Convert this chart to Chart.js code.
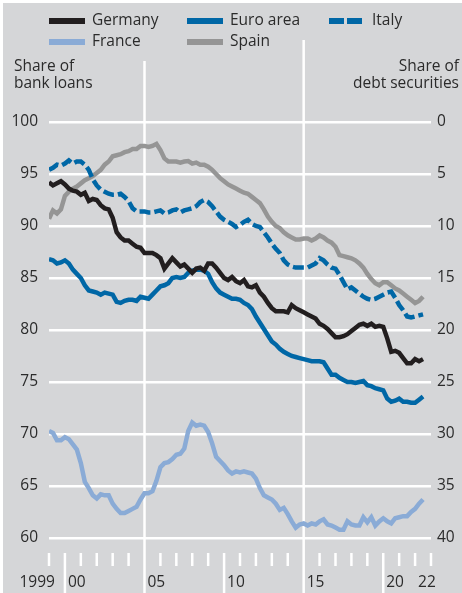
<!DOCTYPE html>
<html>
<head>
<meta charset="utf-8">
<script src="https://cdn.jsdelivr.net/npm/chart.js@4"></script>
<style>
  body { margin: 0; background: #fff; }
  #wrap { position: absolute; left: 3px; top: 3px; width: 459px; height: 590px; background: #d5d6d8; }
</style>
</head>
<body>
<div id="wrap"><canvas id="chart" width="459" height="590"></canvas></div>
<script>
// Quarterly observations, 1999 Q1 to 2022 Q3 (x position in years)
const quarters = Array.from({ length: 95 }, (_, i) => 1999 + i / 4);

const germany = [
    94.2, 93.9, 94.1, 94.3,  94.0, 93.6, 93.4, 93.3,  93.0, 93.2, 92.4, 92.6,
    92.5, 92.0, 91.7, 91.6,  90.8, 89.4, 88.9, 88.6,  88.6, 88.3, 88.0, 87.9,
    87.4, 87.4, 87.4, 87.2,  86.9, 85.9, 86.4, 86.9,  86.5, 86.1, 86.3, 85.9,
    85.5, 85.9, 86.0, 85.7,  86.4, 86.4, 86.0, 85.5,  85.0, 84.8, 85.1, 84.7,
    84.5, 84.8, 84.2, 84.1,  84.3, 83.6, 83.2, 82.6,  82.1, 81.8, 81.8, 81.8,
    81.7, 82.4, 82.1, 81.9,  81.7, 81.5, 81.3, 81.1,  80.6, 80.4, 80.1, 79.7,
    79.3, 79.3, 79.4, 79.6,  79.9, 80.2, 80.5, 80.6,  80.4, 80.6, 80.3, 80.4,
    80.3, 79.2, 77.9, 78.0,  77.8, 77.3, 76.8, 76.8,  77.2, 77.0, 77.2,
];

const euroArea = [
    86.8, 86.7, 86.4, 86.5,  86.7, 86.4, 85.8, 85.4,  85.0, 84.3, 83.8, 83.7,
    83.6, 83.4, 83.6, 83.5,  83.4, 82.7, 82.6, 82.8,  82.9, 82.9, 82.8, 83.2,
    83.1, 83.0, 83.4, 83.8,  84.2, 84.3, 84.5, 85.0,  85.1, 85.0, 85.1, 85.5,
    85.7, 85.8, 85.8, 85.7,  85.4, 84.6, 84.0, 83.6,  83.4, 83.2, 83.0, 83.0,
    82.9, 82.6, 82.4, 82.0,  81.3, 80.7, 80.1, 79.5,  78.9, 78.6, 78.2, 77.9,
    77.7, 77.5, 77.4, 77.3,  77.2, 77.1, 77.0, 77.0,  77.0, 76.9, 76.3, 75.7,
    75.7, 75.4, 75.2, 75.0,  75.0, 74.9, 75.0, 75.1,  74.7, 74.6, 74.4, 74.3,
    74.2, 73.4, 73.1, 73.2,  73.4, 73.1, 73.1, 73.0,  73.0, 73.3, 73.6,
];

const italy = [
    95.4, 95.6, 95.9, 95.8,  96.0, 96.3, 96.0, 96.2,  96.2, 95.9, 95.4, 94.5,
    93.9, 93.5, 93.3, 93.1,  93.0, 93.0, 93.1, 92.8,  92.4, 91.7, 91.4, 91.4,
    91.4, 91.3, 91.3, 91.4,  91.5, 91.2, 91.3, 91.5,  91.6, 91.3, 91.5, 91.6,
    91.7, 91.9, 92.3, 92.5,  92.3, 91.9, 91.4, 90.9,  90.6, 90.4, 90.2, 89.9,
    90.1, 90.4, 90.6, 90.2,  90.0, 89.9, 89.4, 88.9,  88.3, 87.8, 87.4, 86.7,
    86.3, 86.1, 86.0, 86.0,  86.0, 86.0, 86.2, 86.4,  86.9, 86.7, 86.3, 86.0,
    85.9, 85.3, 84.6, 83.9,  84.1, 83.8, 83.5, 83.2,  83.0, 82.9, 83.0, 83.2,
    83.4, 83.6, 83.7, 83.1,  82.4, 81.9, 81.3, 81.2,  81.3, 81.4, 81.5,
];

const france = [
    70.3, 70.1, 69.4, 69.4,  69.7, 69.5, 69.0, 68.5,  67.2, 65.4, 64.8, 64.1,
    63.8, 64.2, 64.1, 64.1,  63.3, 62.8, 62.4, 62.4,  62.6, 62.8, 63.0, 63.7,
    64.3, 64.3, 64.5, 65.5,  66.8, 67.2, 67.3, 67.6,  68.0, 68.1, 68.6, 70.3,
    71.1, 70.8, 70.9, 70.8,  70.2, 69.1, 67.8, 67.4,  67.0, 66.5, 66.2, 66.4,
    66.3, 66.4, 66.3, 66.2,  65.7, 64.8, 64.1, 63.9,  63.7, 63.3, 62.7, 62.9,
    62.3, 61.6, 61.0, 61.3,  61.4, 61.2, 61.4, 61.3,  61.6, 61.8, 61.3, 61.2,
    61.0, 60.8, 60.8, 61.6,  61.3, 61.2, 61.2, 62.0,  61.5, 62.0, 61.2, 61.6,
    61.9, 61.6, 61.4, 61.9,  62.0, 62.1, 62.1, 62.5,  62.8, 63.3, 63.7,
];

const spain = [
    90.7, 91.5, 91.2, 91.6,  92.9, 93.3, 93.6, 93.8,  94.1, 94.4, 94.6, 94.8,
    95.1, 95.4, 95.9, 96.2,  96.7, 96.8, 96.9, 97.1,  97.2, 97.4, 97.4, 97.7,
    97.7, 97.6, 97.7, 97.9,  97.3, 96.5, 96.2, 96.2,  96.2, 96.1, 96.2, 96.25,
    96.0, 96.1, 95.9, 95.9,  95.7, 95.4, 95.0, 94.6,  94.3, 94.0, 93.8, 93.6,
    93.4, 93.2, 93.1, 92.8,  92.5, 92.2, 91.6, 90.9,  90.4, 90.0, 89.8, 89.4,
    89.1, 88.9, 88.7, 88.7,  88.8, 88.8, 88.6, 88.8,  89.1, 88.9, 88.6, 88.4,
    88.0, 87.2, 87.1, 87.0,  86.9, 86.7, 86.4, 86.0,  85.4, 84.9, 84.5, 84.3,
    84.6, 84.6, 84.3, 84.0,  83.8, 83.5, 83.2, 82.9,  82.6, 82.8, 83.2,
];

const yearTicks = Array.from({ length: 25 }, (_, i) => 1999 + i);
const yearLabels = { 1999: "1999", 2000: "00", 2005: "05", 2010: "10", 2015: "15", 2020: "20", 2022: "22" };

const FONT = "'Open Sans', 'Noto Sans', sans-serif";
const FONT_SIZE = 15.5;
const TEXT = "#2b2b2b";

const legendItems = [
    { label: "Germany", color: "#221e1f", dash: [], col: 0, row: 0 },
    { label: "Euro area", color: "#0067a6", dash: [], col: 1, row: 0 },
    { label: "Italy", color: "#0067a6", dash: [15, 3], col: 2, row: 0 },
    { label: "France", color: "#8aabd6", dash: [], col: 0, row: 1 },
    { label: "Spain", color: "#959595", dash: [], col: 1, row: 1 },
];

function series(values, color, dash) {
    return {
        data: values.map((v, i) => ({ x: quarters[i], y: v })),
        borderColor: color,
        borderWidth: 4.5,
        borderDash: dash,
        borderCapStyle: "butt",
        pointRadius: 0,
        tension: 0,
        fill: false,
    };
}

// white year lines, tick marks, legend and axis titles
const decor = {
    id: "decor",
    beforeDatasetsDraw(chart) {
        const { ctx } = chart;
        const x = chart.scales.x;
        ctx.save();
        ctx.strokeStyle = "#ffffff";
        ctx.lineWidth = 2.5;
        yearTicks.forEach((yr) => {
            const px = x.getPixelForValue(yr);
            let top = 550, bottom = 563;
            if (yr === 2005) { top = 58; bottom = 590; }
            if (yr === 2015) { top = 37; bottom = 590; }
            if (yr === 2000 || yr === 2010 || yr === 2020) bottom = 590;
            ctx.beginPath();
            ctx.moveTo(px, top);
            ctx.lineTo(px, bottom);
            ctx.stroke();
        });
        ctx.restore();
    },
    afterDraw(chart) {
        const { ctx } = chart;
        const x = chart.scales.x;
        ctx.save();
        ctx.font = FONT_SIZE + "px " + FONT;
        ctx.fillStyle = TEXT;
        ctx.textBaseline = "middle";

        // year labels
        Object.keys(yearLabels).forEach((yr) => {
            const px = x.getPixelForValue(Number(yr));
            if (yr === "1999") {
                ctx.textAlign = "right";
                ctx.fillText(yearLabels[yr], x.getPixelForValue(2000) - 10, 580);
            } else {
                ctx.textAlign = "left";
                ctx.fillText(yearLabels[yr], px + 3, 580);
            }
        });

        // axis titles
        ctx.textAlign = "left";
        ctx.fillText("Share of", 11, 64);
        ctx.fillText("bank loans", 11, 81);
        ctx.textAlign = "right";
        ctx.fillText("Share of", 456, 64);
        ctx.fillText("debt securities", 456, 81);

        // legend
        const cols = [46, 184, 326];
        const rows = [18, 39];
        legendItems.forEach((item) => {
            const lx = cols[item.col];
            const ly = rows[item.row];
            ctx.strokeStyle = item.color;
            ctx.lineWidth = 6;
            ctx.setLineDash(item.dash);
            ctx.beginPath();
            ctx.moveTo(lx, ly);
            ctx.lineTo(lx + 36, ly);
            ctx.stroke();
            ctx.setLineDash([]);
            ctx.textAlign = "left";
            ctx.fillStyle = TEXT;
            ctx.fillText(item.label, lx + 43, ly);
        });
        ctx.restore();
    },
};

new Chart(document.getElementById("chart"), {
    type: "line",
    data: {
        datasets: [
            series(germany, "#221e1f", []),
            series(euroArea, "#0067a6", []),
            series(italy, "#0067a6", [11, 4]),
            series(france, "#8aabd6", []),
            series(spain, "#959595", []),
        ],
    },
    options: {
        responsive: false,
        animation: false,
        layout: { padding: { top: 119, bottom: 55, left: 0, right: 0 } },
        plugins: {
            legend: { display: false },
            tooltip: { enabled: false },
        },
        scales: {
            x: {
                type: "linear",
                min: 1999,
                max: 2023,
                display: false,
            },
            y: {
                position: "left",
                min: 60,
                max: 100,
                ticks: { stepSize: 5, color: TEXT, font: { family: FONT, size: FONT_SIZE }, padding: 11 },
                grid: { color: "#ffffff", lineWidth: 2.5, drawTicks: false },
                border: { display: false },
                afterFit: (s) => { s.width = 46; },
            },
            y1: {
                position: "right",
                min: 0,
                max: 40,
                reverse: true,
                ticks: { stepSize: 5, color: TEXT, font: { family: FONT, size: FONT_SIZE }, padding: 6 },
                grid: { display: false, drawTicks: false },
                border: { display: false },
                afterFit: (s) => { s.width = 31; },
            },
        },
    },
    plugins: [decor],
});
</script>
</body>
</html>
